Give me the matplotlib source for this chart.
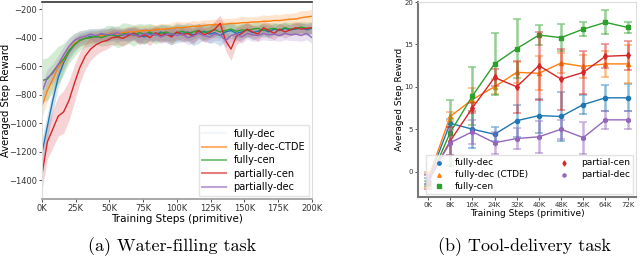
import numpy as np
import matplotlib.pyplot as plt

# ---------------- (a) water-filling: training curves (steps in K) ----------------
steps_a = list(range(0, 201, 4))

fully_dec = [-1210, -1020, -840, -680, -575, -500, -450, -415, -405, -390,
             -395, -380, -385, -370, -390, -375, -380, -365, -385, -395,
             -370, -380, -360, -375, -385, -365, -370, -360, -380, -370,
             -355, -375, -365, -385, -360, -350, -370, -360, -345, -365,
             -355, -345, -360, -340, -350, -335, -345, -340, -330, -345, -335]
fully_dec_band = [100, 90, 80, 70, 60, 55, 50, 45, 45, 40,
                  45, 40, 45, 50, 45, 40, 50, 45, 55, 50,
                  45, 50, 55, 60, 65, 70, 60, 65, 75, 70,
                  60, 65, 70, 75, 60, 55, 50, 55, 45, 50,
                  45, 40, 45, 40, 45, 40, 35, 40, 35, 40, 35]

fully_dec_ctde = [-880, -770, -690, -610, -560, -490, -440, -420, -405, -400,
                  -390, -385, -380, -370, -375, -365, -360, -360, -355, -350,
                  -350, -345, -340, -340, -335, -330, -330, -325, -320, -320,
                  -315, -310, -310, -305, -305, -300, -300, -295, -295, -290,
                  -290, -285, -285, -280, -280, -275, -270, -270, -260, -255, -250]
fully_dec_ctde_band = [80, 70, 60, 55, 50, 45, 45, 40, 40, 40,
                       35, 35, 40, 35, 40, 35, 40, 45, 40, 35,
                       40, 35, 40, 35, 40, 45, 40, 35, 40, 35,
                       40, 35, 40, 35, 40, 35, 40, 45, 40, 35,
                       40, 45, 40, 45, 40, 45, 40, 45, 50, 45, 50]

fully_cen = [-700, -690, -640, -590, -550, -490, -450, -420, -405, -400,
             -390, -400, -385, -380, -395, -375, -370, -385, -365, -375,
             -360, -380, -370, -360, -375, -365, -355, -370, -360, -350,
             -365, -355, -345, -360, -350, -340, -355, -345, -350, -340,
             -335, -350, -340, -335, -345, -330, -340, -335, -325, -335, -330]
fully_cen_band = [150, 150, 140, 130, 110, 90, 80, 70, 60, 60,
                  55, 60, 70, 65, 75, 80, 70, 75, 65, 70,
                  60, 65, 60, 55, 60, 55, 50, 55, 50, 45,
                  50, 45, 50, 45, 50, 45, 50, 45, 50, 45,
                  45, 50, 45, 40, 45, 40, 45, 40, 40, 45, 40]

partially_cen = [-1360, -1130, -1040, -950, -920, -840, -720, -610, -530, -480,
                 -450, -430, -420, -400, -395, -405, -385, -370, -395, -380,
                 -400, -365, -385, -375, -395, -360, -380, -370, -390, -350,
                 -380, -365, -340, -300, -420, -480, -390, -370, -340, -360,
                 -375, -330, -350, -370, -340, -360, -345, -330, -340, -335, -330]
partially_cen_band = [110, 120, 130, 140, 150, 140, 130, 110, 90, 80,
                      70, 65, 60, 55, 50, 55, 50, 45, 55, 50,
                      55, 50, 45, 50, 55, 45, 50, 45, 55, 50,
                      50, 45, 55, 60, 70, 80, 60, 55, 50, 45,
                      50, 45, 50, 45, 40, 45, 40, 45, 40, 35, 40]

partially_dec = [-780, -680, -650, -590, -520, -460, -420, -400, -390, -375,
                 -385, -370, -380, -375, -365, -385, -370, -380, -390, -370,
                 -380, -375, -395, -380, -370, -385, -375, -400, -390, -370,
                 -385, -395, -375, -380, -420, -385, -375, -395, -370, -380,
                 -385, -370, -380, -375, -385, -370, -380, -375, -385, -370, -400]
partially_dec_band = [60, 60, 70, 65, 60, 55, 50, 45, 45, 40,
                      45, 40, 45, 40, 45, 40, 45, 40, 45, 40,
                      45, 40, 45, 50, 45, 40, 45, 50, 45, 40,
                      45, 40, 45, 40, 50, 45, 40, 45, 40, 45,
                      40, 45, 40, 45, 40, 45, 40, 45, 40, 45, 40]

# ---------------- (b) tool-delivery: mean +- std at checkpoints ----------------
steps_b = [0, 8, 16, 24, 32, 40, 48, 56, 64, 72]

td_fully_dec = [-1.1, 5.7, 5.0, 4.4, 6.0, 6.6, 6.5, 7.9, 8.7, 8.7]
td_fully_dec_err = [0.4, 0.5, 2.2, 0.8, 1.9, 2.0, 2.9, 1.1, 1.5, 1.6]
td_ctde = [-0.9, 6.5, 8.5, 10.0, 11.7, 11.6, 12.8, 12.4, 12.7, 12.7]
td_ctde_err = [0.9, 0.5, 1.3, 0.9, 1.2, 2.0, 1.2, 1.4, 1.5, 2.2]
td_fully_cen = [-1.4, 4.6, 8.9, 12.7, 14.5, 16.1, 15.8, 16.8, 17.6, 17.0]
td_fully_cen_err = [0.3, 3.9, 3.4, 3.7, 3.5, 1.2, 1.6, 0.8, 1.4, 0.6]
td_partial_cen = [-1.2, 3.6, 7.5, 11.1, 10.0, 12.5, 10.9, 11.7, 13.6, 13.7]
td_partial_cen_err = [0.8, 1.6, 0.6, 1.0, 3.1, 4.0, 3.6, 2.5, 1.4, 1.7]
td_partial_dec = [-0.9, 3.4, 4.7, 3.4, 3.9, 4.1, 5.0, 4.0, 6.1, 6.1]
td_partial_dec_err = [0.6, 1.5, 1.4, 1.3, 1.2, 1.9, 1.1, 1.9, 1.1, 1.1]

fig = plt.figure(figsize=(6.4, 2.58), dpi=100)

# ---- left panel ----
ax1 = fig.add_axes([0.0656, 0.2287, 0.4219, 0.7636])
x_a = np.array(steps_a) * 1000
series_a = [
    ('fully-dec', fully_dec, fully_dec_band, '#1f77b4'),
    ('fully-dec-CTDE', fully_dec_ctde, fully_dec_ctde_band, '#ff7f0e'),
    ('fully-cen', fully_cen, fully_cen_band, '#2ca02c'),
    ('partially-cen', partially_cen, partially_cen_band, '#d62728'),
    ('partially-dec', partially_dec, partially_dec_band, '#9467bd'),
]
handles = []
for name, y, band, c in series_a:
    y = np.array(y)
    band = np.array(band)
    ax1.fill_between(x_a, y - band, y + band, color=c, alpha=0.2, linewidth=0)
    ax1.plot(x_a, y, color=c, linewidth=1)
legend_cols = ['#e6f0f7', '#ff7f0e', '#2ca02c', '#d62728', '#9467bd']
for (name, _, _, _), lc in zip(series_a, legend_cols):
    h, = ax1.plot([], [], color=lc, linewidth=1.5, alpha=0.6, label=name)
    handles.append(h)

ax1.set_xlim(0, 200000)
ax1.set_ylim(-1530, -150)
ax1.set_xticks(np.arange(0, 200001, 25000))
ax1.set_xticklabels([f'{int(v / 1000)}K' for v in np.arange(0, 200001, 25000)])
ax1.set_yticks([-1400, -1200, -1000, -800, -600, -400, -200])
ax1.tick_params(labelsize=6, length=2, width=0.6, colors='#333333', pad=1.5)
ax1.set_xlabel('Training Steps (primitive)', fontsize=7.5, labelpad=1)
ax1.set_ylabel('Averaged Step Reward', fontsize=7.2)
ax1.yaxis.set_label_coords(-0.113, 0.5)
for s in ['left', 'right']:
    ax1.spines[s].set_color('#dddddd')
ax1.spines['bottom'].set_color('#999999')
ax1.spines['bottom'].set_linewidth(1.2)
ax1.spines['top'].set_color('#333333')
ax1.spines['top'].set_linewidth(1.2)
ax1.legend(handles=handles, loc='lower right', fontsize=7, frameon=True,
           edgecolor='#dddddd', fancybox=False, handlelength=2.4,
           borderaxespad=0.3, labelspacing=0.35)

# ---- right panel ----
ax2 = fig.add_axes([0.6531, 0.2364, 0.3406, 0.7558])
series_b = [
    ('fully-dec', td_fully_dec, td_fully_dec_err, '#1f77b4', 'o'),
    ('fully-dec (CTDE)', td_ctde, td_ctde_err, '#ff7f0e', '^'),
    ('fully-cen', td_fully_cen, td_fully_cen_err, '#2ca02c', 's'),
    ('partial-cen', td_partial_cen, td_partial_cen_err, '#d62728', 'd'),
    ('partial-dec', td_partial_dec, td_partial_dec_err, '#9467bd', 'h'),
]
for name, y, err, c, m in series_b:
    ax2.errorbar(steps_b, y, yerr=err, fmt='none', ecolor=c, alpha=0.5,
                 elinewidth=1.8, capsize=3, capthick=1.2)
    ax2.plot(steps_b, y, color=c, linewidth=1, marker=m, markersize=3)
    ax2.scatter([], [], color=c, marker=m, s=6, label=name)

ax2.set_xlim(-3.6, 75)
ax2.set_ylim(-3, 20)
ax2.set_xticks(steps_b)
ax2.set_xticklabels([f'{v}K' for v in steps_b])
ax2.set_yticks([0, 5, 10, 15, 20])
ax2.tick_params(labelsize=5, length=2, width=0.6, colors='#333333', pad=1.5)
ax2.set_xlabel('Training Steps (primitive)', fontsize=6.5, labelpad=1)
ax2.set_ylabel('Averaged Step Reward', fontsize=6.5)
ax2.yaxis.set_label_coords(-0.066, 0.5)
for s in ['top', 'right']:
    ax2.spines[s].set_color('#dddddd')
for s in ['left', 'bottom']:
    ax2.spines[s].set_color('#777777')
    ax2.spines[s].set_linewidth(1.5)
ax2.legend(loc='lower right', ncol=2, fontsize=6.5, frameon=True,
           edgecolor='#dddddd', fancybox=False, handletextpad=0.8,
           columnspacing=3.0, borderaxespad=0.3, labelspacing=0.3)

# captions
fig.text(0.269, 0.043, '(a) Water-filling task', family='cmr10', fontsize=13,
         ha='center', va='center')
fig.text(0.819, 0.043, '(b) Tool-delivery task', family='cmr10', fontsize=13,
         ha='center', va='center')

fig.savefig('out.png', dpi=100)
